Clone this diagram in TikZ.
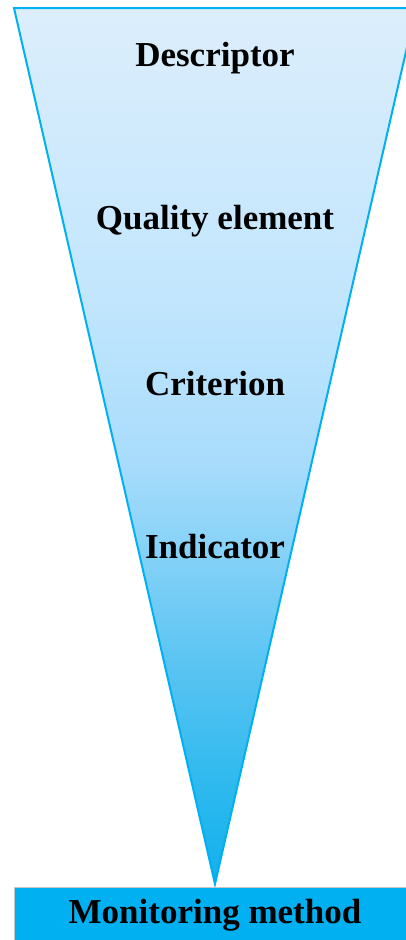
\documentclass[tikz,border=0pt]{standalone}
\usepackage{fontspec}
\setmainfont{Liberation Serif}
\definecolor{edgeblue}{HTML}{00B0F0}
\definecolor{gA}{HTML}{DCEEFC}
\definecolor{gB}{HTML}{C2E6FD}
\definecolor{gC}{HTML}{A8DCFC}
\definecolor{gD}{HTML}{5AC4F2}
\definecolor{gE}{HTML}{2AB8EE}
\definecolor{gF}{HTML}{12B0EE}
\pgfdeclareverticalshading{funnelshade}{100bp}{color(0bp)=(gF); color(25bp)=(gF); color(30bp)=(gE); color(37.5bp)=(gD); color(49bp)=(gC); color(58.5bp)=(gB); color(75bp)=(gA); color(100bp)=(gA)}
\begin{document}
\begin{tikzpicture}[x=1pt,y=-1pt,
  lbl/.style={font=\fontsize{35}{40}\selectfont\bfseries, text=black, inner sep=0pt}]
\useasboundingbox (0,0) rectangle (406,940);
\clip (0,0) rectangle (406,940);
% funnel
\draw[edgeblue, line width=2pt, line join=miter, shading=funnelshade]
  (14,8) -- (416,8) -- (215,884) -- cycle;
% bottom box
\node[draw=gray!45, line width=1pt, fill=edgeblue, minimum width=420pt, minimum height=60pt,
  anchor=north west, inner sep=0pt] (box) at (14,887) {};
\node[lbl] (mm) at (215,915) {Monitoring method};
\node[lbl] (d) at (215,58) {Descriptor};
\node[lbl] (q) at (215,221) {Quality element};
\node[lbl] (c) at (215,384) {Criterion};
\node[lbl] (i) at (215,547) {Indicator};
\end{tikzpicture}
\end{document}
